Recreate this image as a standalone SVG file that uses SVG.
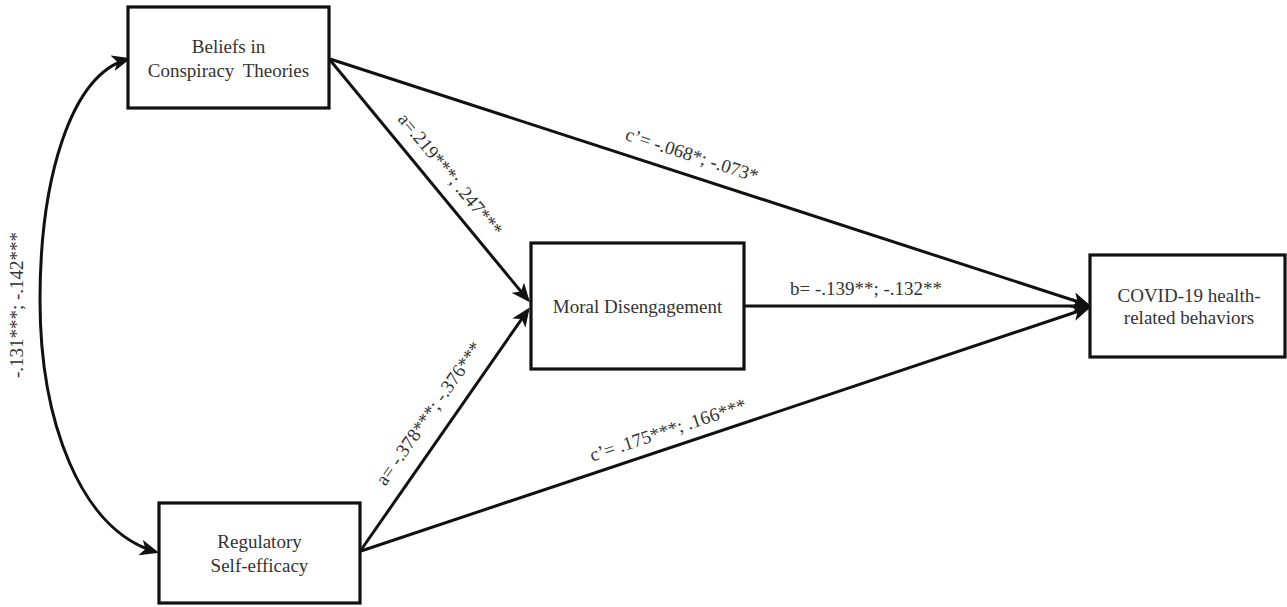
<svg xmlns="http://www.w3.org/2000/svg" width="1287" height="607" viewBox="0 0 1287 607">
<style>
.box{fill:#fff;stroke:#111;stroke-width:3.2}
.t{font-family:"Liberation Serif","Times New Roman",serif;font-size:19px;fill:#333;text-anchor:middle}
.c{fill:none;stroke:#111;stroke-width:3}
</style>
<defs>
<marker id="ah" markerUnits="userSpaceOnUse" markerWidth="20" markerHeight="16" refX="16" refY="8" orient="auto-start-reverse" viewBox="0 0 20 16">
<path d="M0,0 L19,8 L0,16 L5,8 z" fill="#111"/>
</marker>
</defs>
<rect width="1287" height="607" fill="#fff"/>
<g id="connectors">
<path class="c" d="M128,59 C70,75 40,180 40,300 C40,420 80,530 156,552" marker-start="url(#ah)" marker-end="url(#ah)"/>
<line class="c" x1="330" y1="60" x2="528" y2="300" marker-end="url(#ah)"/>
<line class="c" x1="361" y1="550" x2="528" y2="310" marker-end="url(#ah)"/>
<line class="c" x1="330" y1="59" x2="1088" y2="305" marker-end="url(#ah)"/>
<line class="c" x1="744" y1="306" x2="1088" y2="306" marker-end="url(#ah)"/>
<line class="c" x1="361" y1="551" x2="1088" y2="308" marker-end="url(#ah)"/>
<text class="t" transform="translate(23,305) rotate(-90)">-.131***; -.142***</text>
<text class="t" transform="translate(445.5,178.5) rotate(50.5)">a=.219***; .247***</text>
<text class="t" transform="translate(434,417) rotate(-55)">a= -.378***; -.376***</text>
<text class="t" transform="translate(690,161) rotate(18)">c’= -.068*; -.073*</text>
<text class="t" transform="translate(670,436) rotate(-18.4)">c’= .175***; .166***</text>
<text class="t" x="866" y="295">b= -.139**; -.132**</text>
</g>
<g id="beliefs">
<rect class="box" x="128" y="7" width="201" height="101"/>
<text class="t" x="228.5" y="53">Beliefs in</text>
<text class="t" x="228.5" y="77" word-spacing="4">Conspiracy Theories</text>
</g>
<g id="regulatory">
<rect class="box" x="159" y="503" width="201" height="100"/>
<text class="t" x="259.5" y="548">Regulatory</text>
<text class="t" x="259.5" y="572">Self-efficacy</text>
</g>
<g id="moral">
<rect class="box" x="531" y="243" width="213" height="126"/>
<text class="t" x="637.5" y="313">Moral Disengagement</text>
</g>
<g id="covid">
<rect class="box" x="1090" y="255" width="195" height="102"/>
<text class="t" x="1189" y="302">COVID-19 health-</text>
<text class="t" x="1189" y="324">related behaviors</text>
</g>
</svg>
